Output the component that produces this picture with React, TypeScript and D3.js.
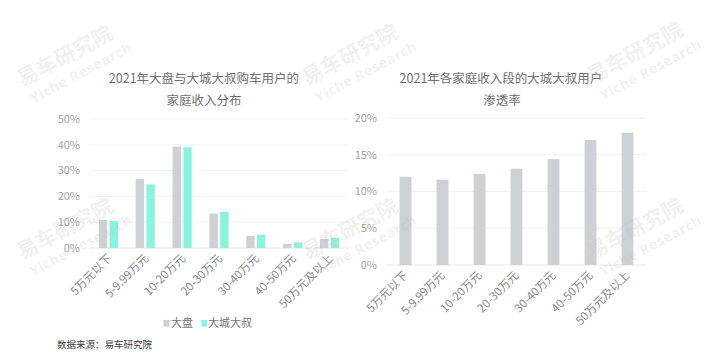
import React from "react";
import * as d3 from "d3";

const categories = ["5万元以下", "5-9.99万元", "10-20万元", "20-30万元", "30-40万元", "40-50万元", "50万元及以上"];
const seriesNames = ["大盘", "大城大叔"];
const dapanShare = [10.9, 26.7, 39.3, 13.3, 4.7, 1.6, 3.5];
const uncleShare = [10.5, 24.7, 39.0, 14.1, 5.2, 2.2, 4.0];
const penetration = [12.0, 11.6, 12.4, 13.1, 14.4, 17.0, 18.0];
const leftTicks = [0, 10, 20, 30, 40, 50];
const rightTicks = [0, 5, 10, 15, 20];

const GRAY = "#ced1d4";
const CYAN = "#87f4e0";
const FONT = "'Noto Sans CJK SC', 'Noto Sans', sans-serif";

// watermark anchor points (start of the text run)
const marks: [number, number][] = [
  [22, 87], [307, 86], [592, 84],
  [22, 260], [307, 260], [592, 260],
];

const App = () => {
  // left chart
  const yL = d3.scaleLinear().domain([0, 50]).range([248, 119]);
  const x0 = d3.scaleBand().domain(categories).range([90, 348]).paddingInner(0.48).paddingOuter(0.24);
  const x1 = d3.scaleBand().domain(seriesNames).range([0, x0.bandwidth()]).paddingInner(0.22);
  const colors = d3.scaleOrdinal<string>().domain(seriesNames).range([GRAY, CYAN]);
  const groups = categories.map((c, i) => ({ c, vals: [dapanShare[i], uncleShare[i]] }));

  // right chart
  const yR = d3.scaleLinear().domain([0, 20]).range([265, 118]);
  const xR = d3.scaleBand().domain(categories).range([387, 646]).paddingInner(0.68).paddingOuter(0.34);

  const xLabel = (x: number, y: number, t: string, key: string) => (
    <text key={key} transform={`translate(${x},${y}) rotate(-45)`} textAnchor="end"
      fontSize={11.5} fill="#8c8c8c">{t}</text>
  );

  return (
    <svg width={720} height={354} style={{ position: "absolute", left: 0, top: 0, background: "#fff" }}
      fontFamily={FONT}>
      {/* titles */}
      <g fill="#707070" fontSize={12.5} textAnchor="middle">
        <text x={204} y={83}>2021年大盘与大城大叔购车用户的</text>
        <text x={204} y={105}>家庭收入分布</text>
        <text x={501} y={83}>2021年各家庭收入段的大城大叔用户</text>
        <text x={502} y={105}>渗透率</text>
      </g>

      {/* left chart */}
      <g>
        {leftTicks.map(t => (
          <g key={t}>
            <line x1={90} x2={348} y1={yL(t)} y2={yL(t)} stroke={t === 0 ? "#e6e6e6" : "#f2f2f2"} />
            <text x={80} y={yL(t)} dy="0.35em" textAnchor="end" fontSize={11} fill="#a6a6a6">{t}%</text>
          </g>
        ))}
        {groups.map(g => (
          <g key={g.c} transform={`translate(${x0(g.c)},0)`}>
            {g.vals.map((v, j) => (
              <rect key={j} x={x1(seriesNames[j])} width={x1.bandwidth()} y={yL(v)} height={yL(0) - yL(v)}
                fill={colors(seriesNames[j])} />
            ))}
          </g>
        ))}
        {categories.map(c => xLabel((x0(c) as number) + x0.bandwidth() / 2 + 4, 259, c, "l" + c))}
      </g>

      {/* right chart */}
      <g>
        {rightTicks.map(t => (
          <g key={t}>
            <line x1={387} x2={646} y1={yR(t)} y2={yR(t)} stroke={t === 0 ? "#e6e6e6" : "#f2f2f2"} />
            <text x={377} y={yR(t)} dy="0.35em" textAnchor="end" fontSize={11} fill="#a6a6a6">{t}%</text>
          </g>
        ))}
        {categories.map((c, i) => (
          <rect key={c} x={xR(c)} width={xR.bandwidth()} y={yR(penetration[i])}
            height={yR(0) - yR(penetration[i])} fill={GRAY} />
        ))}
        {categories.map(c => xLabel((xR(c) as number) + xR.bandwidth() / 2 + 3, 276, c, "r" + c))}
      </g>

      {/* legend */}
      <g fontSize={11} fill="#777">
        <rect x={163.5} y={320} width={5.5} height={6.5} fill={GRAY} />
        <text x={171} y={327}>{seriesNames[0]}</text>
        <rect x={201.5} y={320} width={5.5} height={6.5} fill={CYAN} />
        <text x={208} y={327}>{seriesNames[1]}</text>
      </g>

      <text x={57} y={348} fontSize={9.5} fill="#404040">数据来源：易车研究院</text>

      {/* watermarks */}
      <g fill="#c4c4c4" fillOpacity={0.24} fontWeight="bold">
        {marks.map(([mx, my], i) => (
          <g key={i} transform={`translate(${mx},${my}) rotate(-28)`}>
            <text x={0} y={0} fontSize={21}>易车研究院</text>
            <text x={2} y={20} fontSize={14} letterSpacing={0.6} fontFamily="'Noto Sans', sans-serif">Yiche Research</text>
          </g>
        ))}
      </g>
    </svg>
  );
};

export default App;
